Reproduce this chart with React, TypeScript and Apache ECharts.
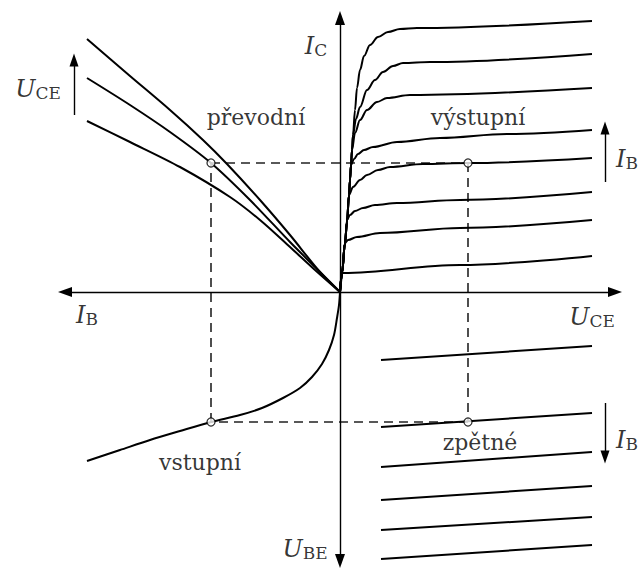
import React, { useEffect, useRef } from "react";
import * as echarts from "echarts";

// Quadrant I – output characteristics I_C(U_CE), one per I_B
const output1 = [[0,0],[0.2,1.9],[0.5,4.9],[0.7,7.0],[0.9,9.7],[1.0,11.2],[1.1,12.7],[1.2,14.2],[1.3,15.7],[1.5,18.2],[1.7,20.4],[2.0,22.2],[2.4,23.6],[3.0,24.7],[3.8,25.5],[4.8,26.0],[6.0,26.3],[7.7,26.4],[25.2,27.1]];
const output2 = [[0,0],[0.2,1.9],[0.5,4.9],[0.7,7.0],[0.9,9.7],[1.0,11.2],[1.1,12.7],[1.2,14.2],[1.3,15.7],[1.6,17.3],[2.0,18.5],[2.7,20.2],[3.5,21.2],[4.3,22.0],[5.3,22.6],[6.3,22.9],[9.0,23.0],[25.2,23.8]];
const output3 = [[0,0],[0.2,1.9],[0.5,4.9],[0.7,7.0],[0.9,9.7],[1.0,11.2],[1.1,12.7],[1.2,14.2],[1.5,15.9],[2.0,17.2],[2.7,18.2],[3.7,19.0],[4.7,19.4],[7.0,19.7],[25.2,20.4]];
const output4 = [[0,0],[0.2,1.9],[0.5,4.9],[0.7,7.0],[0.9,9.7],[1.0,11.2],[1.1,12.7],[1.4,13.3],[1.8,13.8],[2.4,14.2],[3.3,14.5],[5.7,15.0],[10.0,15.4],[16.7,15.8],[25.2,16.2]];
const output5 = [[0,0],[0.2,1.9],[0.5,4.9],[0.7,7.0],[0.9,9.7],[1.3,10.5],[2.0,11.2],[2.7,11.7],[3.8,12.2],[5.0,12.5],[8.3,12.8],[12.8,12.9],[25.2,13.4]];
const output6 = [[0,0],[0.2,1.9],[0.5,4.9],[0.7,7.2],[1.0,7.7],[1.5,8.1],[2.3,8.4],[3.5,8.7],[5.7,8.9],[12.0,9.2],[25.2,10.0]];
const output7 = [[0,0],[0.2,1.9],[0.5,4.9],[0.8,5.2],[1.7,5.5],[4.0,5.9],[12.0,6.4],[25.2,7.2]];
const output8 = [[0,0],[0.3,1.9],[12.0,2.7],[25.2,3.6]];

// Quadrant II – transfer characteristics I_C(I_B), one per U_CE
const transferA = [[-25.3,25.3],[-21.0,21.6],[-17.0,18.2],[-13.7,15.2],[-11.3,12.8],[-8.0,9.2],[-5.0,5.7],[-2.0,2.0],[0,0]];
const transferB = [[-25.3,21.4],[-21.0,18.7],[-17.0,16.0],[-12.9,12.9],[-9.0,9.2],[-5.0,5.0],[-2.5,2.5],[0,0]];
const transferC = [[-25.3,17.1],[-21.0,15.0],[-16.0,12.5],[-11.0,9.5],[-8.0,7.2],[-5.0,4.5],[-2.5,2.2],[0,0]];

// Quadrant III – input characteristic U_BE(I_B)
const inputCurve = [[0,0],[-0.1,-1.3],[-0.3,-2.6],[-0.6,-4.3],[-1.1,-5.8],[-1.8,-7.2],[-2.8,-8.5],[-4.0,-9.6],[-5.7,-10.6],[-7.8,-11.6],[-10.0,-12.3],[-12.9,-13.0],[-16.0,-13.9],[-19.0,-14.8],[-22.0,-15.8],[-25.3,-16.9]];

// Quadrant IV – feedback characteristics U_BE(U_CE)
const feedback1 = [[4.1,-6.8],[25.2,-5.4]];
const feedback2 = [[4.1,-13.5],[25.2,-12.1]];
const feedback3 = [[4.1,-17.5],[25.2,-16.0]];
const feedback4 = [[4.1,-20.8],[25.2,-19.4]];
const feedback5 = [[4.1,-23.8],[25.2,-22.5]];
const feedback6 = [[4.1,-26.7],[25.2,-25.3]];

// Operating point projections
const opPoints = [[-12.9,12.9],[12.8,12.9],[12.8,-13.0],[-12.9,-13.0]];

// Axes (end points) and direction arrows
const axisH = [[-27.5,0],[27.5,0]];
const axisV = [[0,-26.9],[0,27.4]];
const arrowUceUp = [[-26.6,17.7],[-26.6,23.2]];
const arrowIbUp = [[26.5,11.0],[26.5,16.4]];
const arrowIbDown = [[26.5,-11.1],[26.5,-16.5]];

// Texts
const labelTexts = ["{i|I}{s|C}","{i|U}{s|CE}","převodní","výstupní","{i|I}{s|B}","{i|I}{s|B}","{i|U}{s|CE}","{i|U}{s|BE}","vstupní","zpětné","{i|I}{s|B}"];
const labelPos = [[-2.4,24.8],[-30.2,20.5],[-8.4,17.5],[13.8,17.5],[28.7,13.5],[-25.3,-2.1],[25.2,-2.3],[-3.5,-25.5],[-14.0,-17.0],[14.0,-15.0],[28.7,-14.6]];

const FONT = "DejaVu Serif";

export default function App() {
  const ref = useRef<HTMLDivElement>(null);
  useEffect(() => {
    if (!ref.current) return;
    const chart = echarts.init(ref.current, null, { renderer: "svg" });
    const curve = (data: number[][], smooth: number, monotone: boolean) => ({
      type: "line",
      data,
      symbol: "none",
      silent: true,
      smooth,
      ...(monotone ? { smoothMonotone: "x" } : {}),
      lineStyle: { color: "#000", width: 2 },
      z: 3,
    });
    const dashed = (data: number[][]) => ({
      type: "line",
      data,
      symbol: "none",
      silent: true,
      lineStyle: { color: "#222", width: 1.6, type: [9, 6] },
      z: 2,
    });
    const arrowLine = (pts: number[][], both: boolean, size: number[], width: number) => ({
      type: "line",
      data: [],
      silent: true,
      markLine: {
        silent: true,
        animation: false,
        symbol: both ? ["triangle", "triangle"] : ["none", "triangle"],
        symbolSize: size,
        label: { show: false },
        lineStyle: { color: "#000", width, type: "solid" },
        data: [[{ coord: pts[0] }, { coord: pts[1] }]],
      },
    });
    const rich = {
      i: { fontFamily: FONT, fontStyle: "italic", fontSize: 24, lineHeight: 28, verticalAlign: "bottom", color: "#000" },
      s: { fontFamily: FONT, fontSize: 17, lineHeight: 17, verticalAlign: "bottom", color: "#000" },
    };
    const dashes = [
      [opPoints[0], opPoints[1]],
      [opPoints[1], opPoints[2]],
      [opPoints[2], opPoints[3]],
      [opPoints[3], opPoints[0]],
    ];
    chart.setOption({
      animation: false,
      backgroundColor: "#fff",
      grid: { left: 0, right: 0, top: 0, bottom: 0 },
      xAxis: { type: "value", min: -34, max: 30.3, show: false },
      yAxis: { type: "value", min: -27.9, max: 29.2, show: false },
      series: [
        arrowLine(axisH, true, [10, 14], 1.4),
        arrowLine(axisV, true, [10, 14], 1.4),
        arrowLine(arrowUceUp, false, [9, 13], 1.4),
        arrowLine(arrowIbUp, false, [9, 13], 1.4),
        arrowLine(arrowIbDown, false, [9, 13], 1.4),
        ...dashes.map(dashed),
        ...[output1, output2, output3, output4, output5, output6, output7, output8].map((d) => curve(d, 0.35, true)),
        ...[transferA, transferB, transferC].map((d) => curve(d, 0.3, false)),
        curve(inputCurve, 0.3, false),
        ...[feedback1, feedback2, feedback3, feedback4, feedback5, feedback6].map((d) => curve(d, 0, false)),
        {
          type: "scatter",
          data: opPoints,
          symbol: "circle",
          symbolSize: 8,
          silent: true,
          itemStyle: { color: "#fff", borderColor: "#000", borderWidth: 1.3 },
          z: 5,
        },
        {
          type: "scatter",
          silent: true,
          symbolSize: 1,
          itemStyle: { color: "rgba(0,0,0,0)" },
          z: 6,
          data: labelPos.map((p, k) => ({
            value: p,
            label: {
              show: true,
              position: "inside",
              formatter: labelTexts[k],
              fontFamily: FONT,
              fontSize: 22,
              color: "#000",
              rich,
            },
          })),
        },
      ],
    });
    return () => chart.dispose();
  }, []);
  return (
    <div
      ref={ref}
      style={{ position: "absolute", left: 0, top: 0, width: 643, height: 571, background: "#fff" }}
    />
  );
}
